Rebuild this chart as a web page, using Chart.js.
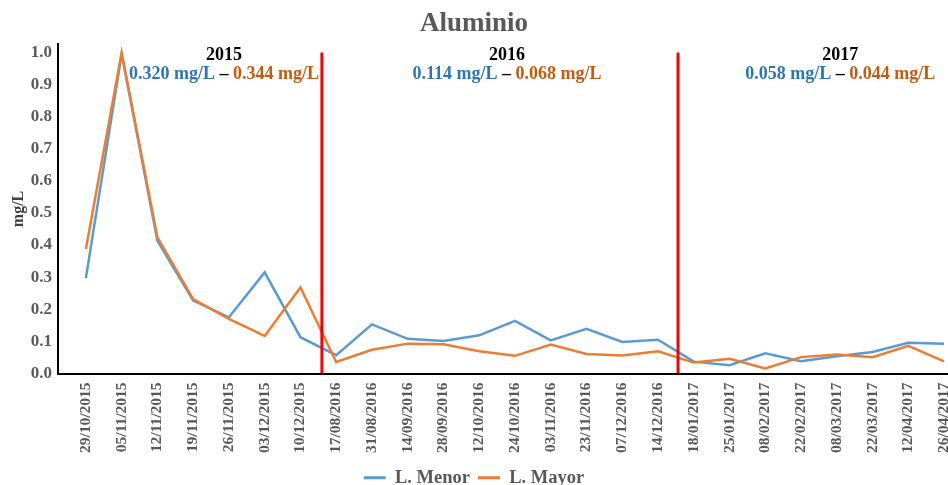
<!DOCTYPE html>
<html>
<head>
<meta charset="utf-8">
<script src="https://cdn.jsdelivr.net/npm/chart.js@4.4.0/dist/chart.umd.min.js"></script>
<style>
  html, body { margin: 0; padding: 0; background: #fff; }
  #wrap { width: 948px; height: 485px; }
</style>
</head>
<body>
<div id="wrap"><canvas id="alu_canvas" width="948" height="485"></canvas></div>
<script>
// fechas de muestreo
var dates = ['29/10/2015','05/11/2015','12/11/2015','19/11/2015','26/11/2015','03/12/2015','10/12/2015',
  '17/08/2016','31/08/2016','14/09/2016','28/09/2016','12/10/2016','24/10/2016','03/11/2016','23/11/2016','07/12/2016','14/12/2016',
  '18/01/2017','25/01/2017','08/02/2017','22/02/2017','08/03/2017','22/03/2017','12/04/2017','26/04/2017'];
var menor = [0.297, 0.995, 0.413, 0.227, 0.175, 0.315, 0.113,
  0.057, 0.153, 0.108, 0.101, 0.119, 0.164, 0.103, 0.139, 0.098, 0.105,
  0.037, 0.026, 0.063, 0.038, 0.054, 0.067, 0.096, 0.093];
var mayor = [0.388, 1.0, 0.424, 0.232, 0.170, 0.117, 0.268,
  0.036, 0.074, 0.093, 0.091, 0.069, 0.055, 0.090, 0.061, 0.056, 0.069,
  0.034, 0.046, 0.016, 0.051, 0.059, 0.051, 0.086, 0.038];
var yTicks = [0, 0.1, 0.2, 0.3, 0.4, 0.5, 0.6, 0.7, 0.8, 0.9, 1.0];
// separacion entre años (en posicion de categoria)
var dividers = [6.6, 16.56];
var years = ['2015', '2016', '2017'];
var yearMenor = ['0.320 mg/L', '0.114 mg/L', '0.058 mg/L'];
var yearMayor = ['0.344 mg/L', '0.068 mg/L', '0.044 mg/L'];

var gray = '#595959';
var serif = '"Liberation Serif", "Times New Roman", serif';

function toPoints(arr){
  var pts = [];
  for (var i = 0; i < arr.length; i++) pts.push({x: i, y: arr[i]});
  return pts;
}

var datasets = [
  { label: 'L. Menor', data: toPoints(menor), borderColor: '#5B9BD5', backgroundColor: '#5B9BD5',
    borderWidth: 2.5, pointRadius: 0, tension: 0, order: 2 },
  { label: 'L. Mayor', data: toPoints(mayor), borderColor: '#ED7D31', backgroundColor: '#ED7D31',
    borderWidth: 2.5, pointRadius: 0, tension: 0, order: 1 }
];
for (var d = 0; d < dividers.length; d++) {
  datasets.push({ label: 'div' + d, data: [{x: dividers[d], y: 0}, {x: dividers[d], y: 1}],
    borderColor: '#FF0000', borderWidth: 3, pointRadius: 0, order: 0 });
}

// textos de cada año
var yearText = {
  id: 'yearText',
  afterDatasetsDraw: function(chart){
    var ctx = chart.ctx, xs = chart.scales.x;
    var centers = [3.86, 11.78, 21.1];
    ctx.save();
    ctx.textBaseline = 'middle';
    for (var i = 0; i < years.length; i++) {
      var cx = xs.getPixelForValue(centers[i]);
      ctx.font = 'bold 18px ' + serif;
      ctx.fillStyle = '#000';
      ctx.textAlign = 'center';
      ctx.fillText(years[i], cx, 55);
      var a = yearMenor[i], b = ' \u2013 ', c = yearMayor[i];
      var wa = ctx.measureText(a).width, wb = ctx.measureText(b).width, wc = ctx.measureText(c).width;
      var x0 = cx - (wa + wb + wc) / 2;
      ctx.textAlign = 'left';
      ctx.fillStyle = '#2E75B6'; ctx.fillText(a, x0, 74);
      ctx.fillStyle = '#000'; ctx.fillText(b, x0 + wa, 74);
      ctx.fillStyle = '#C55A11'; ctx.fillText(c, x0 + wa + wb, 74);
    }
    ctx.restore();
  }
};

var ctx = document.getElementById('alu_canvas');
var chart = new Chart(ctx, {
  type: 'line',
  data: { datasets: datasets },
  plugins: [yearText],
  options: {
    responsive: false,
    animation: false,
    layout: { padding: { left: 0, right: 0, top: 0, bottom: -12 } },
    plugins: {
      tooltip: { enabled: false },
      title: {
        display: true, text: 'Aluminio', color: gray,
        font: { family: serif, size: 27, weight: 'bold' },
        padding: { top: 8, bottom: 4 }
      },
      legend: {
        position: 'bottom',
        labels: {
          color: gray, boxWidth: 22, boxHeight: 3, padding: 8,
          font: { family: serif, size: 18.5, weight: 'bold' },
          filter: function(item){ return item.datasetIndex < 2; },
          sort: function(a, b){ return a.datasetIndex - b.datasetIndex; },
          generateLabels: function(ch){
            var items = Chart.defaults.plugins.legend.labels.generateLabels(ch);
            items.forEach(function(it){ it.lineWidth = 0; });
            return items;
          }
        }
      }
    },
    scales: {
      x: {
        type: 'linear', min: -0.78, max: 24.11,
        grid: { display: false, drawTicks: false },
        border: { display: true, color: '#000', width: 2 },
        afterBuildTicks: function(s){ s.ticks = dates.map(function(v, i){ return {value: i}; }); },
        afterFit: function(s){ s.height = 87; s.paddingLeft = 0; s.paddingRight = 0; },
        ticks: {
          autoSkip: false, maxRotation: 90, minRotation: 90, padding: 9, color: gray,
          font: { family: serif, size: 15.5, weight: 'bold' },
          callback: function(v){ return dates[v] !== undefined ? dates[v] : ''; }
        }
      },
      y: {
        min: 0, max: 1.025,
        grid: { display: false, drawTicks: false },
        border: { display: true, color: '#000', width: 2 },
        afterBuildTicks: function(s){ s.ticks = yTicks.map(function(v){ return {value: v}; }); },
        afterFit: function(s){ s.width = 58; s.paddingTop = 0; s.paddingBottom = 0; },
        title: {
          display: true, text: 'mg/L', color: '#404040',
          font: { family: serif, size: 16, weight: 'bold' },
          padding: { top: 9, bottom: 0 }
        },
        ticks: {
          padding: 6, color: gray,
          font: { family: serif, size: 17, weight: 'bold' },
          callback: function(v){ return v.toFixed(1); }
        }
      }
    }
  }
});
</script>
</body>
</html>
